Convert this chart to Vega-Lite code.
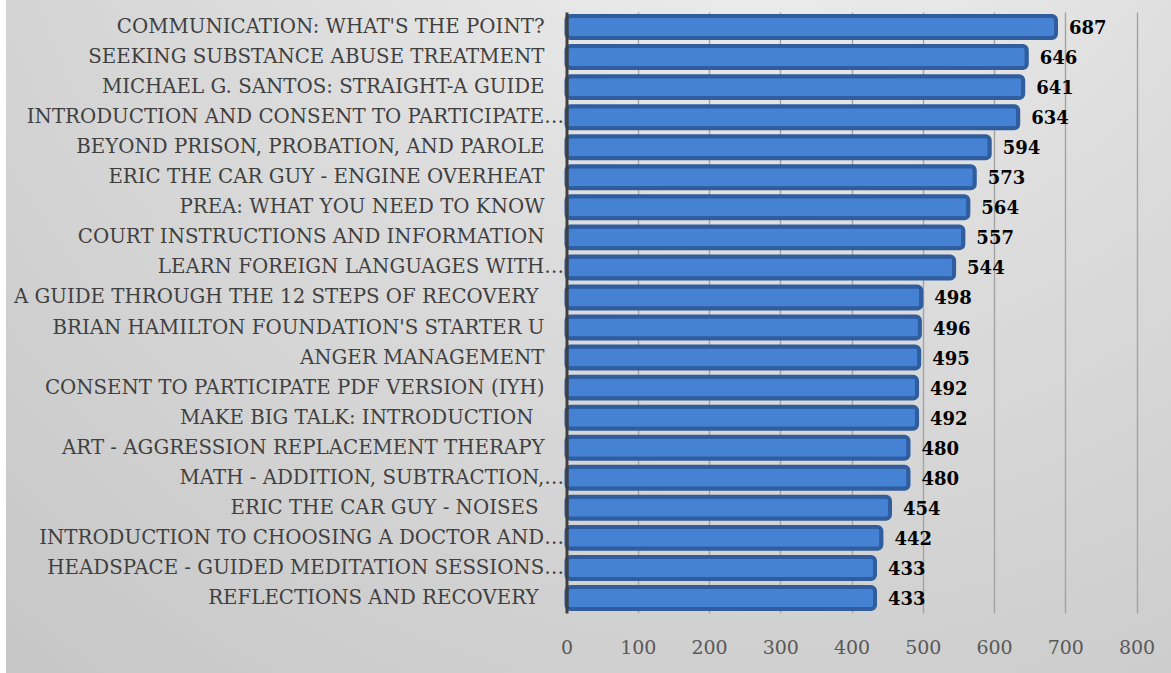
{
  "$schema": "https://vega.github.io/schema/vega-lite/v6.json",
  "width": 1165,
  "height": 673,
  "autosize": {"type": "none"},
  "padding": {"left": 6, "top": 0, "right": 0, "bottom": 0},
  "background": "#ffffff",
  "config": {
    "font": "DejaVu Serif",
    "view": {
      "stroke": null,
      "fill": {
        "gradient": "radial",
        "x1": 0.65, "y1": 0, "r1": 0,
        "x2": 0.65, "y2": 0, "r2": 1,
        "stops": [
          {"offset": 0, "color": "#f5f5f5"},
          {"offset": 0.45, "color": "#dddddd"},
          {"offset": 1, "color": "#c7c7c7"}
        ]
      }
    }
  },
  "data": {
    "values": [
      {"title": "COMMUNICATION: WHAT'S THE POINT?", "views": 687},
      {"title": "SEEKING SUBSTANCE ABUSE TREATMENT", "views": 646},
      {"title": "MICHAEL G. SANTOS: STRAIGHT-A GUIDE", "views": 641},
      {"title": "INTRODUCTION AND CONSENT TO PARTICIPATE…", "views": 634},
      {"title": "BEYOND PRISON, PROBATION, AND PAROLE", "views": 594},
      {"title": "ERIC THE CAR GUY - ENGINE OVERHEAT", "views": 573},
      {"title": "PREA: WHAT YOU NEED TO KNOW", "views": 564},
      {"title": "COURT INSTRUCTIONS AND INFORMATION", "views": 557},
      {"title": "LEARN FOREIGN LANGUAGES WITH…", "views": 544},
      {"title": "A GUIDE THROUGH THE 12 STEPS OF RECOVERY ", "views": 498},
      {"title": "BRIAN HAMILTON FOUNDATION'S STARTER U", "views": 496},
      {"title": "ANGER MANAGEMENT", "views": 495},
      {"title": "CONSENT TO PARTICIPATE PDF VERSION (IYH)", "views": 492},
      {"title": "MAKE BIG TALK: INTRODUCTION  ", "views": 492},
      {"title": "ART - AGGRESSION REPLACEMENT THERAPY", "views": 480},
      {"title": "MATH - ADDITION, SUBTRACTION,…", "views": 480},
      {"title": "ERIC THE CAR GUY - NOISES ", "views": 454},
      {"title": "INTRODUCTION TO CHOOSING A DOCTOR AND…", "views": 442},
      {"title": "HEADSPACE - GUIDED MEDITATION SESSIONS…", "views": 433},
      {"title": "REFLECTIONS AND RECOVERY ", "views": 433}
    ]
  },
  "encoding": {
    "y": {
      "field": "title",
      "type": "nominal",
      "sort": null,
      "scale": {"range": [12, 613], "paddingInner": 0.27, "paddingOuter": 0.135},
      "axis": {
        "title": null,
        "orient": "left",
        "offset": -560.5,
        "zindex": 2,
        "domain": true,
        "domainColor": "#404040",
        "domainWidth": 3,
        "ticks": false,
        "grid": false,
        "labels": false
      }
    }
  },
  "resolve": {"axis": {"x": "independent"}},
  "layer": [
    {
      "mark": {
        "type": "bar",
        "fill": "#4682D4",
        "stroke": "#2F5D9E",
        "strokeWidth": 4,
        "cornerRadius": 4
      },
      "encoding": {
        "x": {
          "field": "views",
          "type": "quantitative",
          "scale": {"domain": [0, 800], "range": [560.5, 1130.5], "nice": false, "zero": true},
          "axis": {
            "title": null,
            "orient": "top",
            "values": [100, 200, 300, 400, 500, 600, 700, 800],
            "grid": true,
            "gridColor": "#a3a3a3",
            "gridWidth": 1.4,
            "domain": false,
            "ticks": false,
            "labels": false,
            "zindex": 0
          }
        }
      }
    },
    {
      "mark": {
        "type": "text",
        "align": "left",
        "baseline": "middle",
        "dx": 13,
        "dy": 2,
        "font": "DejaVu Serif",
        "fontWeight": "bold",
        "fontSize": 18,
        "color": "#000000"
      },
      "encoding": {
        "x": {
          "field": "views",
          "type": "quantitative",
          "axis": {
            "title": null,
            "orient": "bottom",
            "offset": -60,
            "values": [0, 100, 200, 300, 400, 500, 600, 700, 800],
            "grid": false,
            "domain": false,
            "ticks": false,
            "labelFlush": false,
            "labelPadding": 25,
            "labelFont": "DejaVu Serif",
            "labelFontSize": 19,
            "labelColor": "#595959"
          }
        },
        "text": {"field": "views", "type": "quantitative"}
      }
    },
    {
      "transform": [{"filter": "indexof(datum.title, '…') < 0 && substring(datum.title, length(datum.title) - 1) != ' '"}],
      "mark": {"type": "text", "align": "right", "baseline": "middle", "dx": -22, "font": "DejaVu Serif", "fontSize": 19.8, "color": "#404040"},
      "encoding": {
        "x": {"datum": 0, "type": "quantitative", "axis": null},
        "text": {"field": "title", "type": "nominal"}
      }
    },
    {
      "transform": [{"filter": "indexof(datum.title, '  ') < 0 && substring(datum.title, length(datum.title) - 1) == ' '"}],
      "mark": {"type": "text", "align": "right", "baseline": "middle", "dx": -28, "font": "DejaVu Serif", "fontSize": 19.8, "color": "#404040"},
      "encoding": {
        "x": {"datum": 0, "type": "quantitative", "axis": null},
        "text": {"field": "title", "type": "nominal"}
      }
    },
    {
      "transform": [{"filter": "indexof(datum.title, '  ') >= 0"}],
      "mark": {"type": "text", "align": "right", "baseline": "middle", "dx": -33, "font": "DejaVu Serif", "fontSize": 19.8, "color": "#404040"},
      "encoding": {
        "x": {"datum": 0, "type": "quantitative", "axis": null},
        "text": {"field": "title", "type": "nominal"}
      }
    },
    {
      "transform": [{"filter": "indexof(datum.title, '…') >= 0"}],
      "mark": {"type": "text", "align": "right", "baseline": "middle", "dx": -2.5, "font": "DejaVu Serif", "fontSize": 19.8, "color": "#404040"},
      "encoding": {
        "x": {"datum": 0, "type": "quantitative", "axis": null},
        "text": {"field": "title", "type": "nominal"}
      }
    }
  ]
}
